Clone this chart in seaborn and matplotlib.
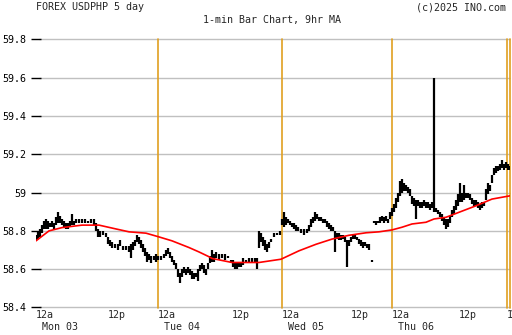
import matplotlib
matplotlib.use("Agg")
import matplotlib.pyplot as plt
import matplotlib.ticker as mticker
import seaborn as sns
import pandas as pd

# ---------------- data ----------------
# bar slot (chart time slot index from Mon 12a), low, high
bar_slot = [0, 2, 4, 6, 8, 10, 12, 14, 16, 18, 20, 22, 24, 26, 28, 30, 32, 34, 36, 38,
            40, 43, 46, 49, 52, 55, 58, 60, 62, 64, 67, 70, 72, 74, 76, 79, 82, 84, 87, 90,
            93, 95, 97, 99, 101, 103, 105, 107, 109, 111, 113, 115, 118, 120,
            122, 125, 128, 130, 132, 134, 136, 138, 140, 142, 144, 146, 148, 150, 152, 154,
            156, 158, 160, 162, 164, 166, 168, 170, 172, 174, 176, 178, 180, 183, 186, 189,
            192, 195, 197, 199, 201, 203, 205, 207, 210, 213, 216, 219, 221, 223, 225, 227,
            229, 231, 233, 235, 238, 241, 244,
            246, 248, 250, 252, 254, 256, 258, 260, 262, 265, 268, 271, 273, 275, 277, 279,
            281, 283, 285, 287, 289, 291, 293, 295, 297, 299, 301, 303, 305, 307, 309, 311,
            313, 315, 317, 319, 321, 323, 325, 327, 329, 331, 333, 336, 338, 340, 342, 344,
            346, 348, 350, 352, 354,
            356, 358, 360, 362, 364, 366, 368, 370, 372, 374, 376, 378, 380, 382, 384, 386,
            388, 390, 392, 394, 396, 398, 400, 402, 404, 406, 408, 410, 412, 414, 416, 418,
            420, 422, 424, 426, 428, 430, 432, 434, 436, 438, 440, 442, 444, 446, 448, 450,
            452, 454, 456, 458, 460, 462, 464, 466, 468, 470, 472, 473]
bar_low = [58.75, 58.76, 58.77, 58.79, 58.81, 58.81, 58.81, 58.82, 58.82, 58.81, 58.83, 58.84,
           58.84, 58.83, 58.82, 58.81, 58.81, 58.82, 58.83, 58.83, 58.84, 58.84, 58.84, 58.84,
           58.84, 58.84, 58.83, 58.80, 58.77, 58.77, 58.78, 58.77, 58.73, 58.72, 58.71, 58.71,
           58.70, 58.72, 58.70, 58.70, 58.69, 58.66, 58.70, 58.72, 58.74, 58.73, 58.71, 58.69,
           58.67, 58.64, 58.65, 58.63, 58.65, 58.64,
           58.65, 58.65, 58.66, 58.67, 58.68, 58.66, 58.64, 58.62, 58.60, 58.56, 58.53, 58.56,
           58.58, 58.57, 58.58, 58.57, 58.55, 58.55, 58.56, 58.54, 58.59, 58.60, 58.58, 58.57,
           58.60, 58.63, 58.64, 58.64, 58.66, 58.65, 58.66, 58.65, 58.66, 58.63, 58.61, 58.60,
           58.60, 58.61, 58.61, 58.62, 58.64, 58.63, 58.64, 58.64, 58.60, 58.71, 58.74, 58.72,
           58.70, 58.69, 58.71, 58.74, 58.77, 58.78, 58.78,
           58.83, 58.82, 58.83, 58.84, 58.83, 58.82, 58.81, 58.80, 58.80, 58.79, 58.78, 58.79,
           58.80, 58.82, 58.84, 58.85, 58.86, 58.85, 58.85, 58.84, 58.84, 58.82, 58.81, 58.80,
           58.80, 58.69, 58.76, 58.75, 58.75, 58.76, 58.74, 58.61, 58.72, 58.74, 58.76, 58.76,
           58.75, 58.73, 58.72, 58.71, 58.72, 58.71, 58.70, 58.64, 58.84, 58.83, 58.84, 58.84,
           58.85, 58.84, 58.85, 58.84, 58.86,
           58.88, 58.90, 58.92, 58.95, 58.98, 59.00, 59.01, 59.01, 59.00, 58.98, 58.94, 58.93,
           58.86, 58.93, 58.92, 58.92, 58.93, 58.92, 58.92, 58.91, 58.92, 58.90, 58.90, 58.89,
           58.87, 58.85, 58.83, 58.81, 58.82, 58.84, 58.87, 58.89, 58.91, 58.93, 58.95, 58.95,
           58.96, 58.97, 58.97, 58.96, 58.94, 58.93, 58.93, 58.92, 58.91, 58.92, 58.93, 58.96,
           58.99, 59.01, 59.05, 59.09, 59.10, 59.11, 59.12, 59.13, 59.12, 59.13, 59.12, 59.12]
bar_high = [58.78, 58.80, 58.81, 58.83, 58.85, 58.86, 58.85, 58.84, 58.85, 58.84, 58.87, 58.90,
            58.88, 58.86, 58.85, 58.84, 58.84, 58.85, 58.89, 58.85, 58.86, 58.86, 58.86, 58.86,
            58.85, 58.86, 58.86, 58.84, 58.81, 58.80, 58.80, 58.79, 58.77, 58.75, 58.74, 58.73,
            58.73, 58.75, 58.72, 58.72, 58.72, 58.73, 58.74, 58.75, 58.78, 58.77, 58.75, 58.73,
            58.71, 58.69, 58.68, 58.67, 58.67, 58.68,
            58.67, 58.67, 58.68, 58.70, 58.71, 58.69, 58.67, 58.65, 58.63, 58.60, 58.58, 58.60,
            58.61, 58.60, 58.61, 58.60, 58.59, 58.58, 58.58, 58.60, 58.62, 58.63, 58.62, 58.60,
            58.63, 58.67, 58.70, 58.68, 58.69, 58.68, 58.68, 58.68, 58.67, 58.65, 58.65, 58.64,
            58.63, 58.63, 58.64, 58.66, 58.65, 58.66, 58.66, 58.66, 58.66, 58.80, 58.79, 58.77,
            58.75, 58.73, 58.74, 58.76, 58.79, 58.79, 58.80,
            58.86, 58.90, 58.87, 58.86, 58.85, 58.84, 58.84, 58.83, 58.82, 58.81, 58.81, 58.81,
            58.83, 58.86, 58.87, 58.90, 58.89, 58.87, 58.87, 58.86, 58.86, 58.85, 58.84, 58.83,
            58.82, 58.80, 58.79, 58.79, 58.78, 58.78, 58.77, 58.75, 58.75, 58.77, 58.78, 58.78,
            58.77, 58.76, 58.75, 58.74, 58.74, 58.73, 58.73, 58.65, 58.85, 58.85, 58.85, 58.87,
            58.88, 58.87, 58.88, 58.86, 58.90,
            58.92, 58.94, 58.97, 59.00, 59.06, 59.07, 59.05, 59.04, 59.03, 59.02, 58.98, 58.97,
            58.96, 58.96, 58.95, 58.95, 58.96, 58.95, 58.95, 58.94, 58.95, 59.60, 58.92, 58.91,
            58.90, 58.89, 58.87, 58.86, 58.86, 58.88, 58.91, 58.93, 58.96, 58.99, 59.05, 59.00,
            59.04, 59.00, 59.00, 58.99, 58.97, 58.96, 58.96, 58.95, 58.94, 58.95, 58.95, 59.02,
            59.05, 59.04, 59.09, 59.13, 59.14, 59.14, 59.15, 59.17, 59.15, 59.16, 59.15, 59.14]

# 9hr moving average
ma_slot = [0, 13, 26, 46, 63, 80, 93, 110, 122, 136, 153, 163, 173, 176, 196, 223, 245,
           263, 280, 296, 313, 330, 343, 356, 366, 376, 390, 398, 410, 423, 440, 456, 474]
ma_value = [58.748, 58.80, 58.817, 58.83, 58.83, 58.81, 58.795, 58.788, 58.77, 58.748,
            58.713, 58.69, 58.665, 58.656, 58.635, 58.635, 58.652, 58.696, 58.73, 58.757,
            58.777, 58.79, 58.795, 58.805, 58.819, 58.836, 58.845, 58.862, 58.871, 58.897,
            58.931, 58.966, 58.983]

day_slot = [122, 246, 356, 471, 474]
xtick_slot = [0, 72, 122, 196, 246, 315, 356, 423, 471, 474]
xtick_time = ["12a", "12p", "12a", "12p", "12a", "12p", "12a", "12p", "1", "12a"]
xtick_day = ["Mon 03", "", "Tue 04", "", "Wed 05", "", "Thu 06", "", "", ""]
ytick_values = [58.4, 58.6, 58.8, 59.0, 59.2, 59.4, 59.6, 59.8]

title_left = "FOREX USDPHP 5 day"
title_right = "(c)2025 INO.com"
subtitle = "1-min Bar Chart, 9hr MA"

# ---------------- plot ----------------
sns.set_style("white")
plt.rcParams['font.family'] = ['DejaVu Sans Mono']
FS = 7.2

W, H = 512, 335
fig = plt.figure(figsize=(W / 100, H / 100), dpi=100)
fig.patch.set_facecolor("white")
ax = fig.add_axes([36 / W, (H - 307.5) / H, 474 / W, (307.5 - 39.3) / H])
ax.set_facecolor("white")

ax.set_xlim(0, 474)
ax.set_ylim(58.4, 59.8)

for s in ax.spines.values():
    s.set_visible(False)

ax.set_yticks(ytick_values)
ax.yaxis.set_major_formatter(mticker.FuncFormatter(lambda v, p: f"{v:g}"))
ax.tick_params(axis="y", left=True, direction="inout", length=7, width=1,
               color="black", pad=3.5, labelsize=FS, labelcolor="black")
ax.set_xticks([])
ax.hlines(ytick_values, 3, 474, color="#c0c0c0", linewidth=1.0, zorder=0.5,
          clip_on=False)

for d in day_slot:
    ax.axvline(d, color="#e0a020", linewidth=1.2, zorder=1, clip_on=False)

ax.vlines(bar_slot, bar_low, bar_high, color="black", linewidth=1.6, zorder=3)

ma_df = pd.DataFrame({"slot": ma_slot, "ma": ma_value})
sns.lineplot(data=ma_df, x="slot", y="ma", color="#ff0000", linewidth=1.2,
             ax=ax, zorder=4)
ax.set_xlabel("")
ax.set_ylabel("")

for xs, tl, dl in zip(xtick_slot, xtick_time, xtick_day):
    ax.annotate(tl, xy=(xs, 0), xycoords=("data", "axes fraction"),
                xytext=(0, -3), textcoords="offset pixels",
                ha="left", va="top", fontsize=FS, annotation_clip=False)
    if dl:
        ax.annotate(dl, xy=(xs, 0), xycoords=("data", "axes fraction"),
                    xytext=(6, -15), textcoords="offset pixels",
                    ha="left", va="top", fontsize=FS, annotation_clip=False)

fig.text(36 / W, 1 - 7.5 / H, title_left, ha="left", va="center", fontsize=FS)
fig.text(506 / W, 1 - 7.5 / H, title_right, ha="right", va="center", fontsize=FS)
fig.text(272 / W, 1 - 20.5 / H, subtitle, ha="center", va="center", fontsize=FS)

fig.savefig("out.png", dpi=100, facecolor="white")
